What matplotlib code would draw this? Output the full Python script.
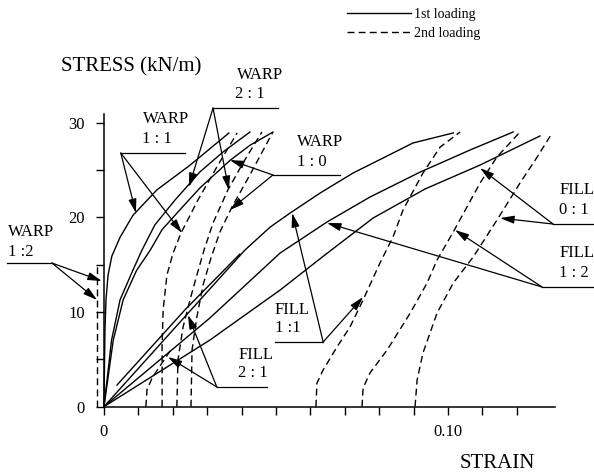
import matplotlib.pyplot as plt
from matplotlib.lines import Line2D

plt.rcParams["font.family"] = ["Liberation Serif", "DejaVu Serif"]

# 1st loading curves (solid)  strain / stress (kN/m)
warp_a_x = [0, 0.0003, 0.0006, 0.0012, 0.0023, 0.0047, 0.0084, 0.0154, 0.0250, 0.0363]
warp_a_y = [0, 8.1, 11.3, 13.9, 15.9, 17.9, 20.2, 22.9, 25.5, 28.9]
warp_b_x = [0, 0.0010, 0.0022, 0.0047, 0.0084, 0.0110, 0.0148, 0.0206, 0.0279, 0.0346, 0.0424]
warp_b_y = [0, 3.1, 7.0, 11.3, 14.4, 16.5, 19.2, 21.8, 24.8, 26.9, 29.0]
warp_c_x = [0, 0.0012, 0.0027, 0.0056, 0.0095, 0.0134, 0.0169, 0.0221, 0.0279, 0.0366, 0.0424, 0.0491]
warp_c_y = [0, 3.1, 7.0, 11.3, 14.4, 16.5, 18.7, 20.8, 23.1, 26.0, 27.6, 29.0]
fill_a_x = [0, 0.0279, 0.0410, 0.0483, 0.0541, 0.0628, 0.0724, 0.0817, 0.0898, 0.1015]
fill_a_y = [0, 11.27, 16.55, 18.97, 20.45, 22.56, 24.68, 26.37, 27.85, 28.91]
fill_b_x = [0, 0.0308, 0.0512, 0.0648, 0.0773, 0.0919, 0.1064, 0.1189]
fill_b_y = [0, 9.37, 16.23, 19.50, 22.14, 24.78, 27.11, 29.01]
fill_c_x = [0, 0.0308, 0.0512, 0.0642, 0.0782, 0.0933, 0.1093, 0.1267]
fill_c_y = [0, 7.04, 12.32, 16.02, 19.92, 22.99, 25.52, 28.59]
fill_d_x = [0.0038, 0.0235, 0.0395]
fill_d_y = [2.29, 10.21, 16.12]

# 2nd loading curves (dashed)
warp_r0_x = [-0.0020, -0.0020]
warp_r0_y = [0, 15.2]
re1_x = [0.0122, 0.0125, 0.0140, 0.0163, 0.0198]
re1_y = [0, 1.76, 3.03, 4.30, 6.20]
re2_x = [0.0169, 0.0169, 0.0172, 0.0183, 0.0201, 0.0224, 0.0273, 0.0328, 0.0387]
re2_y = [0, 6.5, 10.21, 13.9, 16.23, 18.34, 21.82, 25.31, 28.91]
re3_x = [0.0212, 0.0215, 0.0230, 0.0250, 0.0270, 0.0291, 0.0317, 0.0360, 0.0404, 0.0459]
re3_y = [0, 4.93, 8.42, 11.27, 13.90, 16.55, 19.40, 22.88, 25.73, 29.01]
re4_x = [0.0253, 0.0256, 0.0270, 0.0288, 0.0311, 0.0337, 0.0372, 0.0424, 0.0491]
re4_y = [0, 5.99, 9.47, 12.85, 15.70, 18.45, 21.09, 24.47, 29.01]
re5_x = [0.0616, 0.0619, 0.0637, 0.0677, 0.0715, 0.0753, 0.0802, 0.0840, 0.0869, 0.0927, 0.0977, 0.1035]
re5_y = [0, 2.50, 3.88, 6.30, 8.42, 11.27, 15.17, 17.92, 20.77, 24.68, 27.42, 29.01]
re6_x = [0.0750, 0.0753, 0.0773, 0.0823, 0.0890, 0.0939, 0.0968, 0.1015, 0.1093, 0.1142, 0.1209]
re6_y = [0, 1.97, 3.56, 5.99, 9.89, 13.06, 15.49, 18.45, 23.62, 26.37, 29.01]
re7_x = [0.0904, 0.0910, 0.0927, 0.0968, 0.1015, 0.1073, 0.1142, 0.1209, 0.1259, 0.1297]
re7_y = [0, 2.82, 5.67, 9.89, 13.06, 15.81, 19.71, 23.62, 26.37, 28.59]

x_ticks = [0.01 * i for i in range(13)]
x_labels = ["0", "", "", "", "", "", "", "", "", "", "0.10", "", ""]
y_ticks = [0, 5, 10, 15, 20, 25, 30]
y_labels = ["0", "", "10", "", "20", "", "30"]

fig = plt.figure(figsize=(5.94, 4.76), dpi=100)
ax = fig.add_axes([0, 0, 1, 1])
ax.set_xlim(-0.0302, 0.1424)
ax.set_ylim(-7.32, 42.95)
ax.patch.set_visible(False)

solid = dict(color="black", lw=1.0)
dashed = dict(color="black", lw=1.0, linestyle=(0, (5, 3)))

for xs, ys in [(warp_a_x, warp_a_y), (warp_b_x, warp_b_y), (warp_c_x, warp_c_y),
               (fill_a_x, fill_a_y), (fill_b_x, fill_b_y), (fill_c_x, fill_c_y),
               (fill_d_x, fill_d_y)]:
    ax.plot(xs, ys, **solid)
for xs, ys in [(warp_r0_x, warp_r0_y), (re1_x, re1_y), (re2_x, re2_y), (re3_x, re3_y),
               (re4_x, re4_y), (re5_x, re5_y), (re6_x, re6_y), (re7_x, re7_y)]:
    ax.plot(xs, ys, **dashed)

# axes
for s in ["top", "right"]:
    ax.spines[s].set_visible(False)
ax.spines["left"].set_position(("data", 0))
ax.spines["bottom"].set_position(("data", 0))
ax.spines["left"].set_bounds(0, 30.9)
ax.spines["bottom"].set_bounds(0, 0.131)
ax.spines["left"].set_linewidth(1.1)
ax.spines["bottom"].set_linewidth(1.1)
ax.set_xticks(x_ticks)
ax.set_xticklabels(x_labels)
ax.set_yticks(y_ticks)
ax.set_yticklabels(y_labels)
ax.tick_params(direction="out", length=5.8, width=1.0, labelsize=12)
ax.tick_params(axis="y", pad=8)
ax.tick_params(axis="x", pad=7)

ax.text(-0.0125, 35.87, "STRESS (kN/m)", fontsize=15, ha="left", va="center")
ax.text(0.1142, -5.95, "STRAIN", fontsize=15, ha="center", va="center")

arrow = dict(arrowstyle="-|>,head_length=0.6,head_width=0.17", color="black",
             lw=0.9, shrinkA=0, shrinkB=0, mutation_scale=14)


def label(lines, ux, uy, start, tips):
    for s, x, y in lines:
        ax.text(x, y, s, fontsize=12, ha="left", va="center")
    ax.plot(ux, [uy, uy], color="black", lw=0.9)
    for tip in tips:
        ax.annotate("", xy=tip, xytext=start, arrowprops=arrow)


label([("WARP", -0.0279, 18.4), ("1 :2", -0.0279, 16.3)],
      [-0.0282, -0.0151], 15.17, (-0.0151, 15.17), [(-0.0006, 13.27), (-0.0020, 11.27)])
label([("WARP", 0.0113, 30.37), ("1 : 1", 0.0110, 28.26)],
      [0.0049, 0.0235], 26.79, (0.0049, 26.79), [(0.0093, 20.45), (0.0227, 18.34)])
label([("WARP", 0.0387, 35.03), ("2 : 1", 0.0381, 33.02)],
      [0.0317, 0.0506], 31.54, (0.0317, 31.54), [(0.0247, 23.2), (0.0363, 22.88)])
label([("WARP", 0.0561, 27.94), ("1 : 0", 0.0561, 25.84)],
      [0.0491, 0.0686], 24.47, (0.0491, 24.47), [(0.0366, 26.05), (0.0366, 20.77)])
label([("FILL", 0.0497, 10.21), ("1 :1", 0.0497, 8.31)],
      [0.0497, 0.0637], 6.83, (0.0637, 6.83), [(0.0547, 20.45), (0.0753, 11.58)])
label([("FILL", 0.0390, 5.46), ("2 : 1", 0.0390, 3.56)],
      [0.0328, 0.0474], 2.08, (0.0328, 2.08), [(0.0244, 9.68), (0.0186, 5.25)])
label([("FILL", 0.1323, 22.88), ("0 : 1", 0.1323, 20.77)],
      [0.1305, 0.145], 19.29, (0.1305, 19.29), [(0.1093, 25.2), (0.1151, 19.92)])
label([("FILL", 0.1323, 16.23), ("1 : 2", 0.1323, 14.11)],
      [0.1273, 0.145], 12.64, (0.1273, 12.64), [(0.0648, 19.40), (0.1020, 18.66)])

handles = [Line2D([], [], **solid), Line2D([], [], **dashed)]
ax.legend(handles, ["1st loading", "2nd loading"], loc="upper left",
          bbox_to_anchor=(347 / 594, 1 - 8 / 476), bbox_transform=fig.transFigure,
          frameon=False, fontsize=10, handlelength=4.6, handletextpad=0.25,
          labelspacing=0.4, borderpad=0, borderaxespad=0)

fig.savefig("out.png", dpi=100)
